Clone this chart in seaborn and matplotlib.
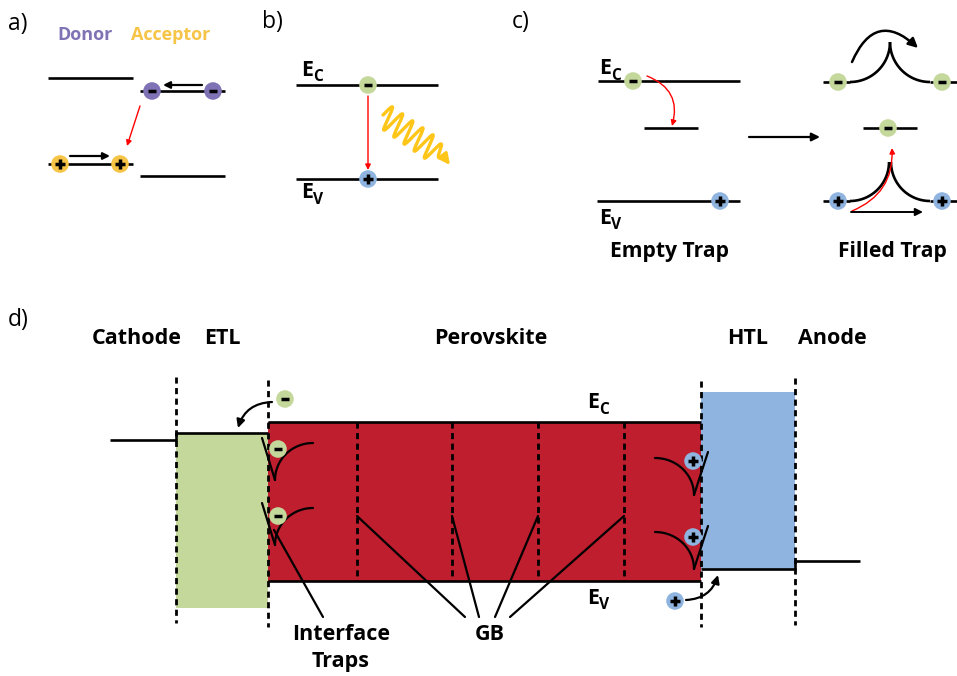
import numpy as np
import pandas as pd
import matplotlib
matplotlib.use("Agg")
import matplotlib.pyplot as plt
import seaborn as sns
from matplotlib.patches import Rectangle

# ---------------- data (schematic levels, pixel-like coordinates) ----------------
panel_labels = ["a)", "b)", "c)", "d)"]
panel_label_x = [8, 262, 512, 8]
panel_label_y = [24, 22, 22, 320]

# panel a
a_levels_x0 = [48, 140, 48, 140]
a_levels_x1 = [133, 225, 133, 225]
a_levels_y = [78, 91, 164, 176]

# panel b
b_levels_y = [85, 179]
b_levels_x = [296, 438]

# panel c
c_band_y = [81, 201]
c_trap_y = 128

# panel d regions
d_region_names = ["Cathode", "ETL", "Perovskite", "HTL", "Anode"]
d_region_x = [137, 222, 491, 748, 832]
d_bounds = [176, 268, 701, 795]
etl_top, etl_bot = 433, 608
pvk_top, pvk_bot = 422, 581
htl_top, htl_bot = 392, 569
cathode_y, anode_y = 440, 561
gb_x = [357, 452, 538, 624]
gb_end_x = [465, 479, 495, 510]

# charges: x, y, kind
charge_x = [152, 213, 60, 120, 368, 368, 633, 720, 838, 942, 888, 838, 942,
            285, 278, 278, 693, 693, 675]
charge_y = [91, 91, 164, 164, 85, 179, 81, 201, 82, 82, 128, 201, 201,
            399, 449, 516, 461, 537, 601]
charge_kind = ["donor", "donor", "acceptor", "acceptor", "electron", "hole",
               "electron", "hole", "electron", "electron", "electron", "hole", "hole",
               "electron", "electron", "electron", "hole", "hole", "hole"]

# ---------------- style ----------------
sns.set_theme(style="white")
plt.rcParams["font.family"] = ["Open Sans", "DejaVu Sans"]
plt.rcParams["text.color"] = "black"

C_RED = "#BE1E2D"
C_GREEN = "#C5D89C"
C_BLUE = "#8FB4E0"
C_PURPLE = "#8073B5"
C_YELLOW = "#F6C446"
C_WAVE = "#FFC61A"
palette = {"donor": C_PURPLE, "acceptor": C_YELLOW, "electron": C_GREEN, "hole": C_BLUE}

fig = plt.figure(figsize=(9.57, 6.76), dpi=100)
ax = fig.add_axes([0, 0, 1, 1])
ax.set_xlim(0, 957)
ax.set_ylim(676, 0)
ax.axis("off")

LW = 1.9
k = dict(color="black", lw=LW, solid_capstyle="butt", zorder=3)
thin = dict(color="black", lw=1.6, zorder=3)


def arrow(x0, y0, x1, y1, color="black", lw=1.6, rad=0.0, ms=12):
    ax.annotate("", xy=(x1, y1), xytext=(x0, y0),
                arrowprops=dict(arrowstyle="-|>", color=color, lw=lw,
                                connectionstyle=f"arc3,rad={rad}",
                                mutation_scale=ms, shrinkA=0, shrinkB=0),
                zorder=4)


def energy_label(x, y, sub, size=15.5):
    ax.text(x, y, "E", fontsize=size, fontweight="bold", ha="left", va="center", color="black")
    ax.text(x + 12, y + 7, sub, fontsize=size * 0.72, fontweight="bold",
            ha="left", va="center", color="black")


def label(x, y, s, size=15.5, **kw):
    ax.text(x, y, s, fontsize=size, fontweight="bold", ha="center", va="center",
            color=kw.pop("color", "black"), **kw)


# panel labels
for lab, x, y in zip(panel_labels, panel_label_x, panel_label_y):
    ax.text(x, y, lab, fontsize=16.5, ha="left", va="center", color="black")

# ---------------- panel a ----------------
label(85, 35, "Donor", size=13, color=C_PURPLE)
label(171, 35, "Acceptor", size=13, color=C_YELLOW)
for x0, x1, y in zip(a_levels_x0, a_levels_x1, a_levels_y):
    ax.plot([x0, x1], [y, y], **k)
arrow(202, 85, 163, 85, ms=10)
arrow(70, 156, 110, 156, ms=10)
arrow(140, 106, 127, 146, color="red", lw=1.0, ms=8)

# ---------------- panel b ----------------
for y in b_levels_y:
    ax.plot(b_levels_x, [y, y], **k)
energy_label(301, 70, "C")
energy_label(301, 193, "V")
arrow(368, 96, 368, 170, color="red", lw=1.0, ms=8)
# wavy photon
p0 = np.array([383.0, 115.0])
p1 = np.array([444.0, 157.0])
d = p1 - p0
u = d / np.linalg.norm(d)
n = np.array([u[1], -u[0]])
t = np.linspace(0, 1, 400)
amp = 12 * np.minimum(1, (1 - t) * 6)
pts = p0[None, :] + t[:, None] * d[None, :] + (amp * np.sin(2 * np.pi * 6 * t))[:, None] * n[None, :]
ax.plot(pts[:, 0], pts[:, 1], color=C_WAVE, lw=2.4, zorder=3)
arrow(pts[-1, 0], pts[-1, 1], 450, 165, color=C_WAVE, lw=2.2, ms=16)

# ---------------- panel c ----------------
ax.plot([598, 740], [c_band_y[0]] * 2, **k)
ax.plot([597, 740], [c_band_y[1]] * 2, **k)
ax.plot([644, 698], [c_trap_y] * 2, **k)
energy_label(599, 69, "C")
energy_label(599, 218, "V")
arrow(647, 76, 672, 126, color="red", lw=1.0, rad=-0.45, ms=8)
arrow(749, 137, 820, 137, lw=1.6, ms=12)
label(670, 252, "Empty Trap", size=15.2)
# filled trap
ax.plot([863, 917], [c_trap_y] * 2, **k)
ang = np.linspace(np.pi / 2, 0, 60)
for yb, r in [(82, 40), (201, 39)]:
    cy = yb - r
    ax.plot(850 + r * np.cos(ang), cy + r * np.sin(ang), **k)
    ax.plot(930 - r * np.cos(ang), cy + r * np.sin(ang), **k)
    ax.plot([823, 850], [yb, yb], **k)
    ax.plot([930, 957], [yb, yb], **k)
arrow(852, 62, 918, 48, lw=1.8, rad=-0.7, ms=14)
arrow(852, 211, 892, 148, color="red", lw=1.0, rad=0.35, ms=8)
arrow(851, 212, 923, 212, lw=1.4, ms=11)
label(892, 252, "Filled Trap", size=15.2)

# ---------------- panel d ----------------
for name, x in zip(d_region_names, d_region_x):
    label(x, 338, name)

ax.add_patch(Rectangle((d_bounds[0], etl_top), d_bounds[1] - d_bounds[0], etl_bot - etl_top,
                       facecolor=C_GREEN, edgecolor="none", zorder=1))
ax.add_patch(Rectangle((d_bounds[1], pvk_top), d_bounds[2] - d_bounds[1], pvk_bot - pvk_top,
                       facecolor=C_RED, edgecolor="none", zorder=1))
ax.add_patch(Rectangle((d_bounds[2], htl_top), d_bounds[3] - d_bounds[2], htl_bot - htl_top,
                       facecolor=C_BLUE, edgecolor="none", zorder=1))
ax.plot([110, d_bounds[0], d_bounds[0], d_bounds[1]], [cathode_y, cathode_y, etl_top, etl_top], **k)
ax.plot([d_bounds[1], d_bounds[2]], [pvk_top, pvk_top], **k)
ax.plot([d_bounds[1], d_bounds[2]], [pvk_bot, pvk_bot], **k)
ax.plot([d_bounds[2], d_bounds[3], d_bounds[3], 860], [htl_bot, htl_bot, anode_y, anode_y], **k)

dot = dict(color="black", lw=2.0, dashes=(2.2, 1.6), zorder=3)
for xb, y0, y1 in zip(d_bounds, [377, 380, 381, 378], [623, 627, 627, 625]):
    ax.plot([xb, xb], [y0, y1], **dot)
for xg, xe in zip(gb_x, gb_end_x):
    ax.plot([xg, xg], [pvk_top, pvk_bot], **dot)
    ax.plot([xg, xe], [516, 617], **thin)

energy_label(587, 403, "C")
energy_label(587, 598, "V")

# interface traps (left: electrons)
ang = np.linspace(np.pi, np.pi / 2, 60)
for yt in [438, 503]:
    yb = yt + 42
    ax.plot([262, 275], [yt, yb], **thin)
    ax.plot(313 + 38 * np.cos(ang), yb - 37 * np.sin(ang), **thin)
ax.plot([274, 323], [530, 617], **thin)
label(341, 635, "Interface")
label(341, 661, "Traps")
label(490, 635, "GB")

# right traps (holes)
ang = np.linspace(np.pi / 2, 0, 60)
for ybm in [495, 569]:
    ax.plot(655 + 39 * np.cos(ang), ybm - 37 * np.sin(ang), **thin)
    ax.plot([694, 708], [ybm, ybm - 43], **thin)

arrow(272, 402, 238, 428, lw=1.6, rad=0.35, ms=12)
arrow(686, 600, 718, 575, lw=1.6, rad=0.35, ms=12)

# ---------------- charges via seaborn ----------------
charges = pd.DataFrame({"x": charge_x, "y": charge_y, "kind": charge_kind})
sns.scatterplot(data=charges, x="x", y="y", hue="kind", palette=palette, s=160,
                edgecolor="none", legend=False, ax=ax, zorder=5)
neg = charges[charges["kind"].isin(["donor", "electron"])]
pos = charges[charges["kind"].isin(["acceptor", "hole"])]
ax.scatter(neg["x"], neg["y"], marker="_", s=40, linewidths=2.5, color="black", zorder=6)
ax.scatter(pos["x"], pos["y"], marker="+", s=45, linewidths=2.5, color="black", zorder=6)

ax.set_xlim(0, 957)
ax.set_ylim(676, 0)
ax.axis("off")
fig.savefig("out.png", dpi=100)
